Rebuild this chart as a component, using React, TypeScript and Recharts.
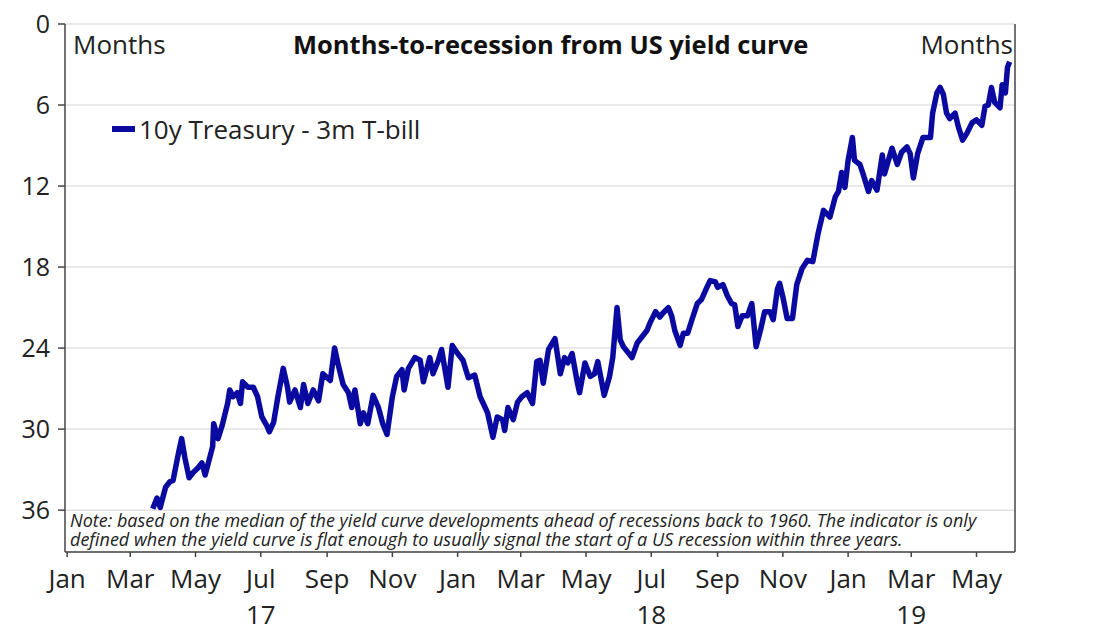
import React from 'react'
import { LineChart, Line, XAxis, YAxis, CartesianGrid } from 'recharts'

// days since 1 Jan 2017
const days = [
    80, 84, 87, 92, 96, 99, 104, 107, 110, 114, 118, 122, 126, 129, 132, 136, 137, 141, 145, 150,
    152, 155, 159, 162, 164, 169, 174, 178, 182, 187, 189, 193, 197, 202, 206, 208, 213, 218, 221, 225,
    230, 235, 239, 246, 250, 253, 258, 263, 266, 269, 274, 277, 281, 286, 291, 295, 299, 304, 308, 313,
    315, 319, 325, 330, 333, 339, 342, 347, 350, 356, 360, 365, 370, 375, 381, 386, 389, 393, 398, 402,
    407, 409, 412, 417, 421, 425, 430, 435, 439, 442, 445, 450, 456, 461, 465, 468, 472, 477, 479, 484,
    489, 493, 496, 502, 507, 510, 514, 517, 520, 524, 528, 533, 537, 542, 545, 550, 554, 557, 562, 565,
    568, 573, 576, 580, 584, 589, 593, 598, 601, 606, 608, 613, 617, 621, 624, 627, 631, 636, 640, 644,
    648, 652, 657, 660, 664, 666, 669, 673, 678, 682, 687, 692, 697, 702, 707, 713, 718, 721, 724, 727,
    730, 734, 736, 741, 744, 749, 752, 757, 762, 764, 771, 776, 780, 785, 788, 791, 795, 800, 807, 809,
    813, 816, 819, 822, 825, 830, 833, 837, 841, 846, 850, 855, 858, 861, 864, 867, 872, 874, 877, 879,
    881,
]

// months-to-recession, 10y Treasury - 3m T-bill
const monthsToRecession = [
    35.9, 35.1, 35.8, 34.3, 33.9, 33.8, 31.8, 30.7, 32.1, 33.6, 33.2, 32.9, 32.5, 33.4, 32.5, 31.3, 29.6, 30.7, 29.7, 28.1,
    27.1, 27.6, 27.3, 28.1, 26.5, 26.9, 26.9, 27.6, 29.1, 29.8, 30.2, 29.5, 27.6, 25.5, 26.9, 28.0, 27.1, 28.4, 26.7, 28.1,
    27.1, 27.9, 25.9, 26.4, 24.0, 25.1, 26.7, 27.3, 28.4, 27.1, 29.6, 28.8, 29.6, 27.5, 28.4, 29.6, 30.4, 27.6, 26.1, 25.6,
    27.1, 25.5, 24.7, 24.9, 26.5, 24.7, 25.9, 24.9, 24.1, 26.9, 23.8, 24.4, 24.9, 26.2, 26.0, 27.6, 28.1, 28.8, 30.6, 29.1,
    29.3, 30.1, 28.4, 29.3, 28.0, 27.6, 27.3, 28.1, 25.0, 24.9, 26.6, 24.1, 23.3, 25.9, 24.7, 25.1, 24.4, 26.6, 27.3, 25.1,
    26.1, 25.9, 25.0, 27.5, 26.1, 24.7, 21.0, 23.4, 23.9, 24.3, 24.7, 23.6, 23.2, 22.7, 22.1, 21.3, 21.7, 21.4, 21.0, 21.6,
    22.7, 23.8, 22.9, 22.9, 21.9, 20.7, 20.4, 19.5, 19.0, 19.1, 19.5, 19.3, 20.1, 20.7, 20.8, 22.4, 21.6, 21.6, 20.7, 23.9,
    22.7, 21.3, 21.3, 21.9, 19.6, 19.2, 20.2, 21.8, 21.8, 19.3, 18.1, 17.5, 17.6, 15.5, 13.8, 14.3, 12.8, 12.4, 11.0, 12.1,
    10.1, 8.4, 10.1, 10.4, 11.1, 12.4, 11.6, 12.3, 9.7, 11.1, 9.2, 10.4, 9.5, 9.1, 9.6, 11.4, 9.6, 8.4, 8.4, 6.6,
    5.1, 4.7, 5.2, 6.6, 7.0, 6.6, 7.6, 8.6, 8.1, 7.3, 7.1, 7.5, 6.1, 6.0, 4.7, 5.8, 6.2, 4.5, 5.1, 3.2,
    2.8,
]

const monthTicks = [0, 59, 120, 181, 243, 304, 365, 424, 485, 546, 608, 669, 730, 789, 850]
const monthLabels = ['Jan', 'Mar', 'May', 'Jul', 'Sep', 'Nov', 'Jan', 'Mar', 'May', 'Jul', 'Sep', 'Nov', 'Jan', 'Mar', 'May']
const yearLabels: Record<number, string> = { 181: '17', 546: '18', 789: '19' }
const yTicks = [0, 6, 12, 18, 24, 30, 36]

const noteLines = [
    'Note: based on the median of the yield curve developments ahead of recessions back to 1960. The indicator is only',
    'defined when the yield curve is flat enough to usually signal the start of a US recession within three years.',
]

const FONT = '"Open Sans", "Noto Sans", sans-serif'
const LINE_COLOR = '#0a0aa0'
const AXIS_COLOR = '#444'

const data = days.map((d, i) => ({ day: d, value: monthsToRecession[i] }))

const XTick = ({ x, y, payload }: any) => {
    const label = monthLabels[monthTicks.indexOf(payload.value)]
    const year = yearLabels[payload.value]
    return (
        <g>
            <text x={x} y={y + 29} textAnchor="middle" fill="#222" fontSize={26} fontFamily={FONT}>{label}</text>
            {year && <text x={x} y={y + 65} textAnchor="middle" fill="#222" fontSize={26} fontFamily={FONT}>{year}</text>}
        </g>
    )
}

const LeftTick = ({ x, y, payload }: any) => (
    <text x={x} y={y} dy={9} textAnchor="end" fill="#222" fontSize={25} fontFamily={FONT}>{payload.value}</text>
)

const RightTick = ({ x, y, payload }: any) => (
    <text x={x + 33} y={y} dy={9} textAnchor="end" fill="#222" fontSize={25} fontFamily={FONT}>{payload.value}</text>
)

export default function App() {
    return (
        <div style={{ position: 'absolute', left: 0, top: 0, width: 1093, height: 633, background: '#fff' }}>
            <LineChart width={1093} height={633} data={data} margin={{ top: 24, right: 38, bottom: 0, left: 25 }}>
                <CartesianGrid yAxisId="left" vertical={false} stroke="#e2e2e2" strokeWidth={1.5} />
                <XAxis
                    dataKey="day"
                    type="number"
                    domain={[-2, 886]}
                    ticks={monthTicks}
                    interval={0}
                    height={81}
                    stroke={AXIS_COLOR}
                    strokeWidth={1.5}
                    tickSize={5}
                    tick={<XTick />}
                />
                <YAxis
                    yAxisId="left"
                    reversed
                    domain={[0, 39.1]}
                    ticks={yTicks}
                    interval={0}
                    width={40}
                    stroke={AXIS_COLOR}
                    strokeWidth={1.5}
                    tickSize={7}
                    tickMargin={8}
                    tick={<LeftTick />}
                />
                <YAxis
                    yAxisId="right"
                    orientation="right"
                    reversed
                    domain={[0, 39.1]}
                    ticks={yTicks}
                    interval={0}
                    width={40}
                    stroke={AXIS_COLOR}
                    strokeWidth={1.5}
                    tickSize={7}
                    tickMargin={5}
                    tick={<RightTick />}
                />
                <Line
                    yAxisId="left"
                    type="linear"
                    dataKey="value"
                    name="10y Treasury - 3m T-bill"
                    stroke={LINE_COLOR}
                    strokeWidth={5.5}
                    strokeLinejoin="round"
                    dot={false}
                    isAnimationActive={false}
                />
            </LineChart>
            <div style={{ position: 'absolute', left: 293, top: 27, fontFamily: FONT, fontWeight: 700, fontSize: 25.5, color: '#111', whiteSpace: 'nowrap' }}>
                Months-to-recession from US yield curve
            </div>
            <div style={{ position: 'absolute', left: 73, top: 26, fontFamily: FONT, fontSize: 26, color: '#222' }}>Months</div>
            <div style={{ position: 'absolute', right: 1093 - 1013, top: 26, fontFamily: FONT, fontSize: 26, color: '#222' }}>Months</div>
            <div style={{ position: 'absolute', left: 112, top: 111, display: 'flex', alignItems: 'center', fontFamily: FONT, fontSize: 26, color: '#222', whiteSpace: 'nowrap' }}>
                <span style={{ display: 'inline-block', width: 23, height: 6, background: LINE_COLOR, marginRight: 4 }} />
                10y Treasury - 3m T-bill
            </div>
            {noteLines.map((line, i) => (
                <div
                    key={i}
                    style={{ position: 'absolute', left: 70, top: 511 + i * 19, fontFamily: FONT, fontStyle: 'italic', fontSize: 18, lineHeight: '18px', color: '#222', whiteSpace: 'nowrap' }}
                >
                    {line}
                </div>
            ))}
        </div>
    )
}
